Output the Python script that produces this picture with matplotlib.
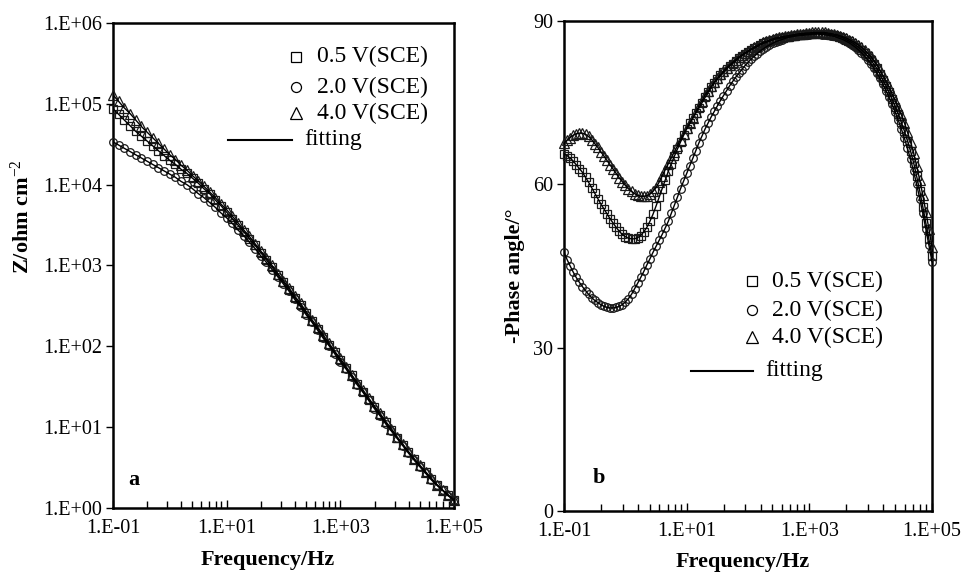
import matplotlib
matplotlib.use('Agg')
import matplotlib.pyplot as plt
from matplotlib.ticker import FixedLocator, FixedFormatter, NullFormatter, NullLocator

plt.rcParams['font.family'] = ['Liberation Serif', 'DejaVu Serif']
plt.rcParams['mathtext.fontset'] = 'custom'
plt.rcParams['mathtext.rm'] = 'Liberation Serif'
plt.rcParams['mathtext.it'] = 'Liberation Serif:italic'
plt.rcParams['mathtext.bf'] = 'Liberation Serif:bold'

# frequency grid of the |Z| plot (Hz)
f_mag = [0.1, 0.126, 0.158, 0.2, 0.251, 0.316, 0.398, 0.501, 0.631, 0.794,
         1.0, 1.26, 1.58, 2.0, 2.51, 3.16, 3.98, 5.01, 6.31, 7.94,
         10, 12.6, 15.8, 20, 25.1, 31.6, 39.8, 50.1, 63.1, 79.4,
         100, 126, 158, 200, 251, 316, 398, 501, 631, 794,
         1000, 1260, 1580, 2000, 2510, 3160, 3980, 5010, 6310, 7940,
         10000, 12600, 15800, 20000, 25100, 31600, 39800, 50100, 63100, 79400,
         100000]

# |Z| (ohm cm2)
z_05 = [87100, 74130, 63100, 53700, 45710, 39810, 34670, 30200, 26300, 22910,
        19950, 17780, 15490, 13800, 12020, 10470, 8913, 7762, 6457, 5495,
        4571, 3802, 3162, 2630, 2138, 1778, 1445, 1175, 955.0, 758.6,
        616.6, 501.2, 398.1, 323.6, 257.0, 204.2, 166.0, 131.8, 104.7, 85.11,
        67.61, 53.70, 43.65, 34.67, 27.54, 21.88, 17.78, 14.13, 11.48, 9.120,
        7.413, 6.026, 4.898, 3.981, 3.311, 2.754, 2.291, 1.950, 1.660, 1.430,
        1.259]
z_20 = [33880, 30900, 28180, 25700, 23440, 21380, 19500, 17780, 16220, 14790,
        13490, 12300, 10960, 10000, 8913, 7762, 6918, 6026, 5248, 4467,
        3890, 3311, 2754, 2344, 1950, 1622, 1318, 1096, 891.3, 724.4,
        588.8, 478.6, 380.2, 309.0, 245.5, 199.5, 158.5, 125.9, 102.3, 81.28,
        64.57, 52.48, 41.69, 33.11, 26.92, 21.38, 16.98, 13.80, 10.96, 8.913,
        7.244, 5.888, 4.786, 3.890, 3.236, 2.692, 2.239, 1.905, 1.660, 1.413,
        1.259]
z_40 = [128800, 107200, 89130, 75860, 63100, 52480, 44670, 38020, 32360, 27540,
        23440, 20420, 17380, 15140, 12880, 11220, 9550, 8128, 6918, 5754,
        4898, 4074, 3388, 2754, 2291, 1862, 1514, 1230, 1000, 794.3,
        645.7, 524.8, 416.9, 338.8, 269.2, 213.8, 173.8, 138.0, 109.6, 87.10,
        70.79, 56.23, 44.67, 35.48, 28.84, 22.91, 18.20, 14.79, 11.75, 9.550,
        7.586, 6.166, 5.012, 4.074, 3.388, 2.818, 2.344, 1.950, 1.660, 1.445,
        1.259]

# frequency grid of the phase plot (Hz)
f_ph = [0.1, 0.112, 0.126, 0.141, 0.158, 0.178, 0.2, 0.224, 0.251, 0.282,
        0.316, 0.355, 0.398, 0.447, 0.501, 0.562, 0.631, 0.708, 0.794, 0.891,
        1.0, 1.12, 1.26, 1.41, 1.58, 1.78, 2.0, 2.24, 2.51, 2.82,
        3.16, 3.55, 3.98, 4.47, 5.01, 5.62, 6.31, 7.08, 7.94, 8.91,
        10, 11.2, 12.6, 14.1, 15.8, 17.8, 20, 22.4, 25.1, 28.2,
        31.6, 35.5, 39.8, 44.7, 50.1, 56.2, 63.1, 70.8, 79.4, 89.1,
        100, 112, 126, 141, 158, 178, 200, 224, 251, 282,
        316, 355, 398, 447, 501, 562, 631, 708, 794, 891,
        1000, 1120, 1260, 1410, 1580, 1780, 2000, 2240, 2510, 2820,
        3160, 3550, 3980, 4470, 5010, 5620, 6310, 7080, 7940, 8910,
        10000, 11200, 12600, 14100, 15800, 17800, 20000, 22400, 25100, 28200,
        31600, 35500, 39800, 44700, 50100, 56200, 63100, 70800, 79400, 89100,
        100000]

# -phase angle (degree)
ph_05 = [65.6, 65.3, 64.8, 64.3, 63.6, 62.9, 62.2, 61.3, 60.4, 59.4,
         58.4, 57.4, 56.4, 55.5, 54.6, 53.7, 52.9, 52.1, 51.4, 50.8,
         50.4, 50.1, 50.0, 50.0, 50.2, 50.6, 51.3, 52.1, 53.2, 54.5,
         56.0, 57.6, 59.2, 60.8, 62.4, 63.8, 65.2, 66.5, 67.8, 69.0,
         70.2, 71.2, 72.2, 73.1, 74.0, 75.0, 76.0, 76.9, 77.8, 78.6,
         79.3, 80.0, 80.6, 81.2, 81.7, 82.2, 82.7, 83.2, 83.6, 84.0,
         84.3, 84.7, 85.0, 85.3, 85.6, 85.9, 86.1, 86.3, 86.5, 86.7,
         86.8, 86.9, 87.0, 87.1, 87.2, 87.3, 87.4, 87.5, 87.5, 87.6,
         87.6, 87.7, 87.7, 87.7, 87.7, 87.7, 87.6, 87.5, 87.4, 87.3,
         87.1, 86.9, 86.6, 86.3, 86.0, 85.6, 85.2, 84.7, 84.2, 83.6,
         82.9, 82.1, 81.3, 80.3, 79.2, 78.1, 76.9, 75.6, 74.3, 72.9,
         71.4, 69.8, 68.0, 66.1, 64.0, 61.5, 58.8, 55.9, 52.9, 49.9,
         46.8]
ph_20 = [47.5, 46.2, 45.0, 43.9, 42.9, 42.0, 41.2, 40.5, 39.8, 39.2,
         38.7, 38.3, 37.9, 37.6, 37.4, 37.3, 37.3, 37.4, 37.6, 37.9,
         38.4, 39.0, 39.8, 40.8, 41.8, 42.9, 44.0, 45.2, 46.3, 47.5,
         48.6, 49.7, 50.8, 52.0, 53.2, 54.7, 56.2, 57.7, 59.2, 60.6,
         62.0, 63.4, 64.8, 66.2, 67.6, 68.9, 70.2, 71.3, 72.4, 73.4,
         74.4, 75.4, 76.3, 77.2, 78.1, 78.9, 79.7, 80.4, 81.1, 81.8,
         82.4, 83.0, 83.5, 84.0, 84.5, 84.9, 85.3, 85.6, 85.9, 86.2,
         86.4, 86.6, 86.8, 87.0, 87.1, 87.2, 87.3, 87.4, 87.4, 87.5,
         87.5, 87.6, 87.6, 87.6, 87.5, 87.5, 87.4, 87.3, 87.2, 87.0,
         86.8, 86.6, 86.3, 86.0, 85.6, 85.2, 84.7, 84.2, 83.6, 82.9,
         82.2, 81.4, 80.5, 79.5, 78.4, 77.2, 76.0, 74.7, 73.3, 71.8,
         70.2, 68.5, 66.6, 64.6, 62.4, 60.0, 57.4, 54.7, 51.8, 48.8,
         45.8]
ph_40 = [67.6, 68.1, 68.6, 69.0, 69.3, 69.4, 69.4, 69.2, 68.8, 68.2,
         67.5, 66.8, 66.0, 65.2, 64.4, 63.6, 62.8, 62.0, 61.2, 60.5,
         59.8, 59.2, 58.7, 58.3, 58.0, 57.8, 57.8, 57.9, 58.2, 58.7,
         59.4, 60.4, 61.6, 62.7, 63.8, 64.9, 66.0, 67.1, 68.2, 69.3,
         70.3, 71.2, 72.2, 73.3, 74.4, 75.4, 76.4, 77.2, 78.0, 78.8,
         79.5, 80.2, 80.8, 81.4, 81.9, 82.4, 82.9, 83.4, 83.8, 84.2,
         84.5, 84.9, 85.2, 85.5, 85.8, 86.1, 86.3, 86.5, 86.7, 86.9,
         87.0, 87.1, 87.2, 87.3, 87.4, 87.5, 87.6, 87.7, 87.7, 87.8,
         87.8, 87.9, 87.9, 87.9, 87.9, 87.9, 87.8, 87.7, 87.6, 87.5,
         87.3, 87.1, 86.9, 86.6, 86.3, 86.0, 85.6, 85.2, 84.7, 84.1,
         83.5, 82.8, 82.0, 81.0, 80.0, 78.9, 77.8, 76.6, 75.4, 74.1,
         72.8, 71.3, 69.6, 67.8, 65.8, 63.4, 60.8, 58.0, 55.0, 51.8,
         48.5]

labels = ['0.5 V(SCE)', '2.0 V(SCE)', '4.0 V(SCE)']
markers = [('s', 5.5), ('o', 5.5), ('^', 6.5)]

xt = [0.1, 10, 1000, 100000]
xt_lab = ['1.E-01', '1.E+01', '1.E+03', '1.E+05']
# excel style minor ticks
xt_minor = [0.4, 0.9, 1.6, 2.5, 3.6, 4.9, 6.4, 8.1,
            40, 90, 160, 250, 360, 490, 640, 810,
            4000, 9000, 16000, 25000, 36000, 49000, 64000, 81000]

fig = plt.figure(figsize=(9.63, 5.72), dpi=100)
ax1 = fig.add_axes([0.1173, 0.1119, 0.3541, 0.8479])
ax2 = fig.add_axes([0.5857, 0.1066, 0.3821, 0.8566])


def draw(ax, f, series):
    for vals, (m, ms) in zip(series, markers):
        ax.plot(f, vals, ls='none', marker=m, ms=ms, mfc='none', mec='#1a1a1a',
                mew=0.9, clip_on=False, zorder=3)
        ax.plot(f, vals, color='black', lw=1.0, zorder=4)


def style(ax):
    ax.set_xscale('log')
    ax.set_xlim(0.1, 1e5)
    ax.xaxis.set_major_locator(FixedLocator(xt))
    ax.xaxis.set_major_formatter(FixedFormatter(xt_lab))
    ax.xaxis.set_minor_locator(FixedLocator(xt_minor))
    ax.xaxis.set_minor_formatter(NullFormatter())
    ax.tick_params(axis='x', which='both', direction='in', top=False,
                   labelsize=14.5, pad=8, width=1)
    ax.tick_params(axis='x', which='major', length=6)
    ax.tick_params(axis='x', which='minor', length=5)
    ax.tick_params(axis='y', which='major', direction='out', length=5, width=1,
                   labelsize=14.5, pad=3, right=False)
    for s in ax.spines.values():
        s.set_linewidth(1.8)


def legend(ax, xm, xt_, rows, line_x, line_t, ly):
    for (m, ms), lab, y in zip(markers, labels, rows):
        ax.plot([xm], [y], ls='none', marker=m, ms=ms + 1.7, mfc='none', mec='black',
                mew=0.9, transform=ax.transAxes, clip_on=False)
        ax.text(xt_, y, lab, transform=ax.transAxes, fontsize=17, va='center', ha='left')
    ax.plot(line_x, [ly, ly], color='black', lw=1.5, transform=ax.transAxes)
    ax.text(line_t, ly, 'fitting', transform=ax.transAxes, fontsize=17,
            va='center', ha='left')


# panel a
draw(ax1, f_mag, [z_05, z_20, z_40])
style(ax1)
ax1.set_yscale('log')
ax1.set_ylim(1, 1e6)
ax1.yaxis.set_major_locator(FixedLocator([1, 10, 100, 1e3, 1e4, 1e5, 1e6]))
ax1.yaxis.set_major_formatter(FixedFormatter(['1.E+00', '1.E+01', '1.E+02', '1.E+03',
                                               '1.E+04', '1.E+05', '1.E+06']))
ax1.yaxis.set_minor_locator(NullLocator())
ax1.set_xlabel('Frequency/Hz', fontsize=16, fontweight='bold', va='center')
ax1.xaxis.set_label_coords(0.453, -0.107)
ax1.set_ylabel('Z/ohm cm$^{-2}$', fontsize=16, fontweight='bold', va='center')
ax1.yaxis.set_label_coords(-0.267, 0.6)
ax1.text(0.062, 0.058, 'a', transform=ax1.transAxes, fontsize=16, fontweight='bold',
         ha='center', va='center')
legend(ax1, 0.537, 0.598, [0.930, 0.868, 0.814], [0.337, 0.525], 0.560, 0.759)

# panel b
draw(ax2, f_ph, [ph_05, ph_20, ph_40])
style(ax2)
ax2.set_ylim(0, 90)
ax2.yaxis.set_major_locator(FixedLocator([0, 30, 60, 90]))
ax2.set_xlabel('Frequency/Hz', fontsize=16, fontweight='bold', va='center')
ax2.xaxis.set_label_coords(0.486, -0.104)
ax2.set_ylabel('-Phase angle/°', fontsize=16, fontweight='bold', va='center')
ax2.yaxis.set_label_coords(-0.133, 0.48)
ax2.text(0.095, 0.067, 'b', transform=ax2.transAxes, fontsize=16, fontweight='bold',
         ha='center', va='center')
legend(ax2, 0.511, 0.565, [0.469, 0.410, 0.355], [0.345, 0.514], 0.546, 0.286)

fig.savefig('out.png', dpi=100)
